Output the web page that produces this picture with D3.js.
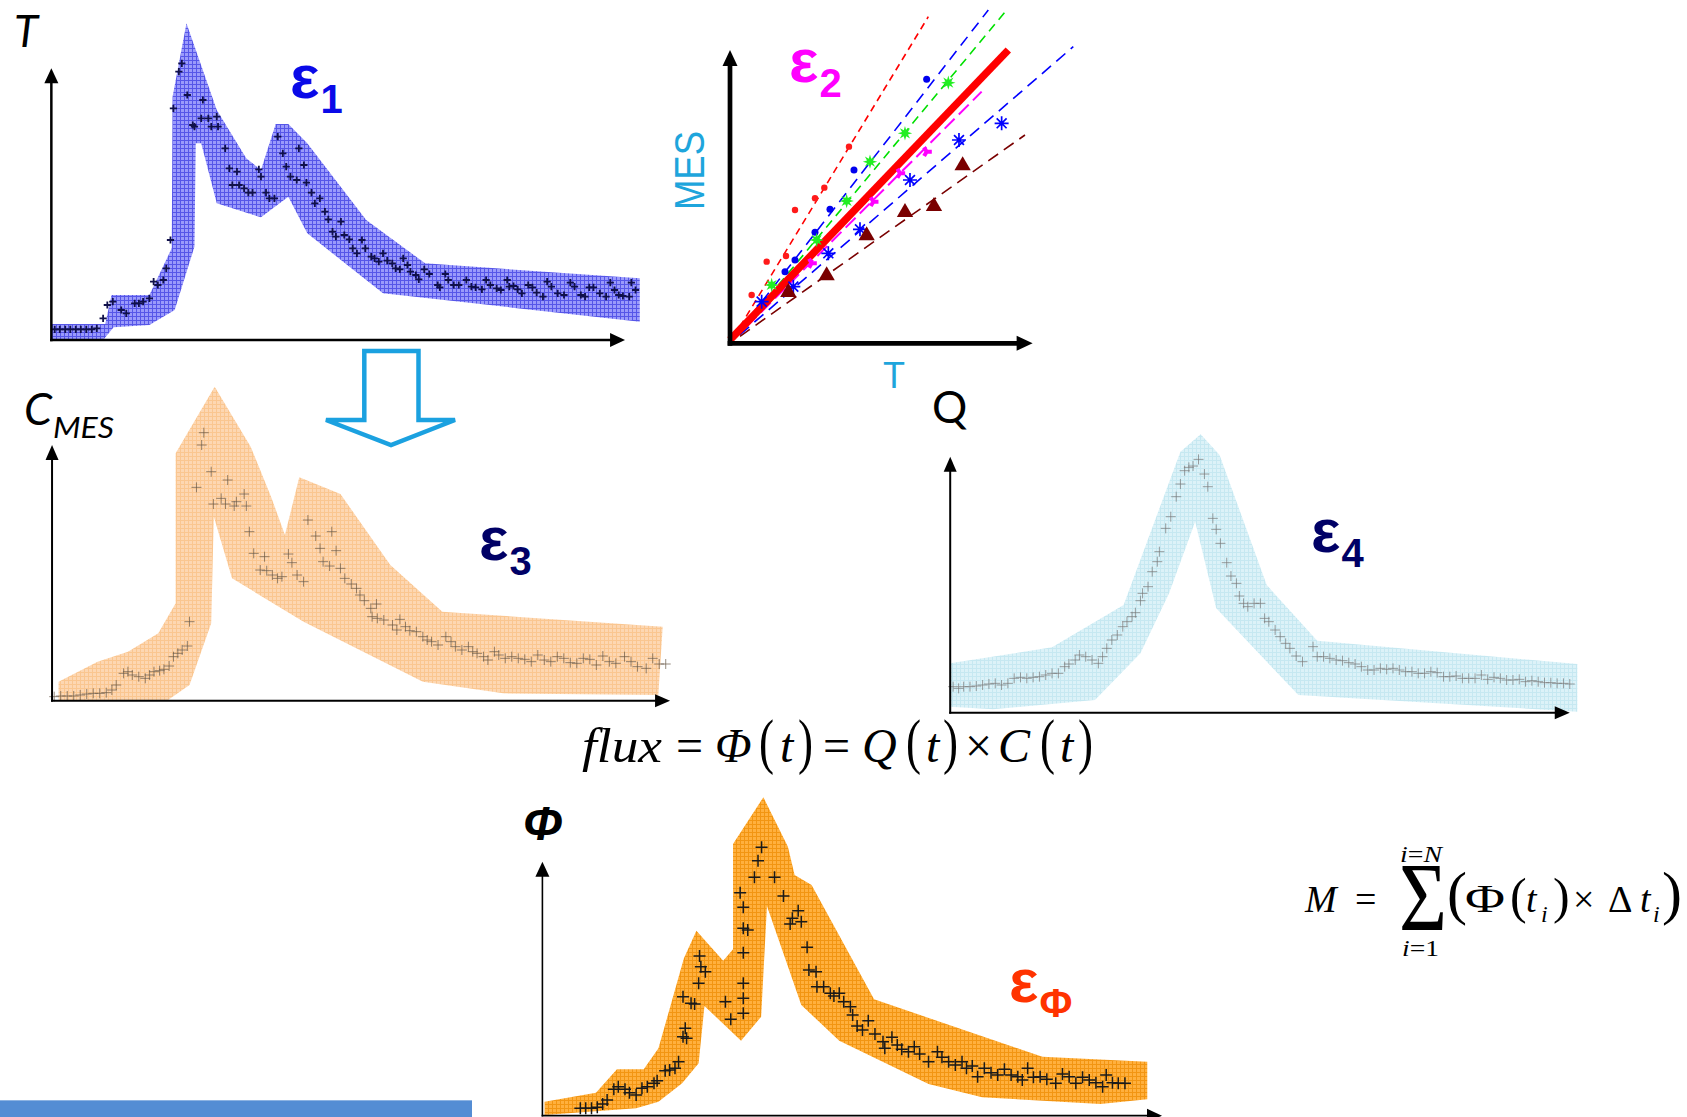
<!DOCTYPE html>
<html>
<head>
<meta charset="utf-8">
<script src="https://cdn.jsdelivr.net/npm/d3@7"></script>
<style>
  html,body{margin:0;padding:0;background:#fff;}
  svg{display:block;}
</style>
</head>
<body>
<script>
// ================= DATA (arbitrary units) =================
// Panel T (turbidity) : uncertainty band (upper then lower outline) and measurements
const turbBandUpper = [[0,4.8],[12.8,4.8],[14.3,13.5],[23.3,13.5],[28.6,27.5],[28.8,73],[32.1,95],[39.3,69],[46.3,54.5],[49.8,51],[53.3,64.8],[56.3,64.8],[60.8,59],[74.8,36],[88.8,23],[139.8,18.5]];
const turbBandLower = [[139.8,5.5],[78.8,14],[60.8,32],[56.3,43],[49.8,36.8],[39.3,41],[35.6,59],[34.3,59],[34,28],[29.3,9],[23.3,4.5],[14.8,3.8],[12.3,0],[0,0]];
const turbPoints = [[0.8,3.2],[2,3.2],[3.3,3.2],[4.5,3.2],[5.8,3.2],[7,3.2],[8.3,3.2],[9.6,3.2],[10.8,3.5],[12.3,6.5],[13.3,10.5],[14.6,11.5],[16.6,9],[17.8,8],[19.8,11],[20.8,11],[21.8,11.5],[23.3,12.5],[24.3,17.5],[25.3,16.5],[26.6,18],[27.3,21.5],[28.3,30],[29,69.5],[30.3,80.5],[31,83],[32.3,73.5],[33.6,64.5],[34,64],[35.6,66.5],[36,72],[37.3,66.5],[38,64],[39.3,67],[39.6,64],[41.3,57.5],[42.3,51.5],[44.1,50.5],[43,46.5],[44.6,46.5],[45.8,45.5],[46.8,44.2],[47.8,44.2],[49.3,51.2],[49.8,49],[51,44.2],[51.8,42.5],[53,42.5],[53.8,61],[55,56],[55.8,52],[56.8,49],[58.3,48],[58.8,57.5],[60,52.5],[60.6,47.2],[61.8,44.2],[62.6,41],[63.8,42.5],[65,38.5],[65.8,36.2],[66.8,32.5],[67.6,31],[68.8,35.5],[69.6,31.5],[70.8,30.2],[71.6,27.5],[72.6,26],[73.8,30],[74.6,27.5],[76,25],[76.8,24.5],[77.8,23.5],[78.8,26],[79.8,23.8],[81,23],[81.8,21.5],[82.8,21.2],[83.6,24.5],[84.6,22.5],[85.3,20.5],[86.6,19.5],[87.3,18.2],[88.6,21.2],[89.8,19.8],[91.8,16.5],[92.3,15.8],[93.6,19.8],[94.3,18],[95.6,16.5],[96.8,16.5],[98.6,18],[99.8,16],[100.8,15.8],[102.3,15.2],[103.3,18],[104.3,16.5],[105.8,15.5],[106.8,15],[108.3,18],[108.8,16],[109.8,16.2],[110.8,15.2],[111.8,14],[113.3,16.5],[114.3,15.8],[115.3,14.2],[116.8,13],[117.8,17.5],[118.8,16],[120.3,14],[121.8,13.5],[123.3,17.2],[124.3,16],[125.8,13.5],[126.8,13],[127.8,15.8],[128.8,15.8],[130.3,14],[131.8,13],[132.8,17.2],[133.8,15],[134.8,13.5],[135.8,13.2],[137.3,13],[137.8,17.2],[138.8,15]];

// Panel C_MES
const concBandUpper = [[1.5,5.7],[10.5,11.7],[17.5,14.7],[24.5,20.2],[28.5,29.2],[28.5,74.2],[37.5,94.2],[45.8,76.2],[50.5,61.2],[53.7,49.7],[57,67],[66.5,62],[78,40.7],[90,26.7],[140.8,22.2]];
const concBandLower = [[139.8,1.7],[104,2.2],[85.5,5.7],[58,23.7],[41.5,36.7],[37.3,55.2],[36.7,23.2],[31.7,4.7],[26.5,0],[1.5,0]];
const concPoints = [[0.5,1.2],[2,1.4],[3.5,1.4],[5,1.4],[6.5,1.7],[8,2],[9.5,2.2],[11,2.2],[12.5,2.4],[13.8,3.2],[14.8,4.7],[16.5,8.2],[17.5,8.7],[18.5,7.7],[20,7.2],[21.5,6.7],[22.5,7.7],[23.5,8.7],[24.8,9],[25.8,9.4],[27,10.4],[28,13.2],[29,14.2],[30,15.2],[31.2,16.4],[31.7,23.7],[35,80.4],[34.5,76.7],[36.7,68.7],[33.3,64],[40.5,66.2],[37.2,59],[39,60.7],[40,59],[42.5,59.7],[44.3,62],[42,58.4],[44.8,58.4],[45.5,50.7],[46.5,44.2],[49,43.2],[48,39.2],[49.5,39],[50.8,37.7],[52,36.7],[53,37.2],[54.5,44],[55.3,41.4],[56.5,37.7],[58,35.7],[59,54.2],[60.8,49.4],[61.8,45.7],[64.5,50.7],[65.5,45],[62.5,41.7],[64,40.4],[66.5,39.7],[67.5,36.7],[69,35],[70.2,33.7],[71,31.7],[72,30],[73.5,27.7],[74.8,29],[73.8,25.2],[75,24.7],[76.5,24.2],[78.5,22.7],[79.5,21.2],[80.2,24.4],[81.5,22.2],[82.5,21],[84,20.7],[85.5,19.2],[86.5,18.2],[87.5,17.7],[89,16.7],[90.8,19.2],[92,17.7],[93,16.2],[94.5,15.2],[96,16.2],[97,14.7],[98,14.2],[99.5,13.2],[100.5,12.2],[102,14.7],[103,13.7],[104.5,12.7],[106,13.2],[107.5,12.7],[109,12.4],[110.5,11.7],[112,13.7],[113.5,12.2],[115,11.7],[116.5,13.2],[118,12.7],[119.5,11.4],[121,11.2],[122.5,12.7],[124,12.4],[125.5,10.7],[127,13.4],[128.5,11.7],[130,11.2],[132,13.2],[133.5,11.7],[135,10.2],[137,9.7],[138.5,12.7],[140,11],[141.5,11]];

// Panel Q
const flowBandUpper = [[0,14.8],[24.2,19.6],[41.2,32.3],[54.7,78.3],[59.5,83.5],[64,77.3],[75.2,38.3],[87.2,21.6],[149,14.6]];
const flowBandLower = [[149,0.3],[82.7,5.3],[63.2,31.3],[58.2,57.3],[52,35.8],[45.2,17.8],[34.4,3.8],[10.2,1],[0,1.8]];
const flowPoints = [[0.7,7.8],[2,7.3],[3.2,7.8],[4.7,7.8],[6.2,8],[7.7,8.3],[9.2,8.6],[10.7,8.8],[12.2,8.3],[13.7,8.8],[15.2,10.3],[16.7,10.6],[18.2,10.3],[19.7,10.6],[21.2,10.8],[22.7,11.3],[24.2,11.8],[25.7,11.8],[27.2,13.8],[28.2,14.6],[29.7,15.8],[30.7,17.3],[32.2,16.8],[33.7,15.8],[35.2,14.8],[36.2,16.8],[37.2,19.3],[38.4,21.8],[39.7,23.3],[41,25.8],[42,27.3],[43.2,28.8],[44,30],[45.2,33.6],[45.7,35.8],[47,37.8],[48,42.3],[49.2,45.3],[49.7,48.3],[51.2,55.3],[52.4,58.8],[53.7,64.8],[54.7,68.6],[55.7,72.6],[56.7,73.6],[57.7,74],[59,76],[60.4,71.6],[61.2,67.8],[62.4,58.3],[63.2,55],[64.2,50.8],[65.7,45],[66.7,41],[68,38.8],[68.7,35],[69.7,32.8],[70.7,31.8],[72.2,32.8],[73.7,32.8],[74.7,28.3],[75.7,27.3],[77.2,24.8],[78.4,22.8],[79.7,20.8],[80.7,19.3],[82.2,17],[83.7,15.3],[86.2,19.8],[87.2,16.8],[88.7,16.8],[90.2,16.3],[91.7,15.8],[93.2,15.6],[94.7,15],[96.2,14.6],[97.7,13.8],[99.2,12.8],[100.7,12.8],[102.2,13.3],[103.7,13],[105.2,13.3],[106.7,12.8],[108.2,12.3],[109.7,12.3],[111.2,11.8],[112.7,11.8],[114.2,12.3],[115.7,12],[117.2,10.8],[118.7,10.8],[120.2,11],[121.7,10.3],[123.2,10.3],[124.7,10.3],[126.2,11.3],[127.7,10],[129.2,10.6],[130.7,10.3],[132.2,9.8],[133.7,9.8],[135.2,10],[136.7,9.3],[138.2,9.6],[139.7,9.3],[141.2,9],[142.7,9],[144.2,8.8],[145.7,8.8],[147.2,8.6]];

// Panel Φ (flux)
const fluxBandUpper = [[0.5,4.2],[12,6.9],[16.7,13.9],[22.7,13.9],[26,20.2],[31.7,47.2],[34.5,55.5],[40.5,46.5],[42.7,49.9],[42.7,81.5],[49.5,95.5],[55,80.7],[56.5,72.2],[60.3,69.2],[74.3,34.9],[112,17.7],[135.5,16.2]];
const fluxBandLower = [[135.5,4.9],[125,3.5],[98.5,5.5],[86.5,9.5],[66.5,22.5],[58,33.2],[50.3,62.9],[49,29.7],[44.5,22.5],[36.3,32.9],[35,15.7],[31.3,9.7],[26,4.2],[21,2.2],[0.5,0.2]];
const fluxPoints = [[8.5,2.2],[9.7,2.2],[11,2.2],[12.3,2.5],[13.5,3.5],[14.5,4.7],[16,7.9],[17,8.7],[18.5,7.9],[19.5,6.9],[21,6.2],[22.3,8.2],[23.5,8.7],[25,9.7],[25.7,10.5],[27.5,13.5],[28.5,13.7],[29.7,14.2],[30.5,16.2],[31.5,23.7],[32,26.2],[32.3,23.2],[31.5,35.7],[33.3,33.7],[34.1,33.5],[35,39.7],[36.5,43.2],[35.5,44.7],[35.2,47.9],[41,34.2],[42.2,28.9],[45,30.7],[45,35.2],[45,39.7],[45,48.9],[45,56.2],[46,55.7],[45,62.5],[44.3,66.9],[47.5,71.5],[48.3,76.5],[49.1,80.5],[52,71.5],[54,65.9],[57.3,61.5],[56,59.2],[58,58.2],[55.5,57.5],[59.3,50.5],[59.7,43.7],[61.3,43.2],[61.5,38.7],[63,38.7],[64.5,36.7],[65.3,35.9],[66.5,36.7],[67.5,34.2],[69,32.7],[69.5,30.2],[70.5,26.9],[71.7,25.7],[73,28.5],[74.5,24.5],[76.3,22.2],[76.7,20.2],[78.3,23.5],[79.5,21.2],[80.5,19.9],[82,19.2],[83.3,20.7],[84.5,18.5],[86.5,16.2],[88.5,19.2],[89.5,17.5],[91,16.2],[92.5,15.2],[94,16.2],[95,14.2],[96.3,14.9],[97.5,11.7],[99,14.2],[100.5,12.9],[102,12.2],[103.5,13.9],[105,12.2],[106.5,11.7],[107.5,10.7],[108.7,14.2],[110,11.5],[111.5,11.7],[113,10.9],[115,9.7],[116.5,12.5],[118,11.7],[119.5,9.7],[121,11.5],[122.5,10.7],[124,9.9],[125.5,8.7],[126.3,12.2],[127.7,9.9],[129,9.7],[130.5,9.7]];

// Panel MES vs T (rating curves)
const redDots      = [[6.5,14.5],[11,24.5],[16.8,26.2],[19.5,40],[25.5,43.5],[28.3,46.7],[35.7,59]];
const blueDots     = [[16.5,21.5],[19.5,25],[25.5,33.3],[30,40.2],[37.2,52],[59,79.2]];
const greenStars   = [[12.5,17.5],[26,31],[35,42.7],[42,54.5],[52.5,63],[65.5,78.2]];
const blueStars    = [[9.5,12.5],[19,17],[29.5,27],[39,34.2],[54,49],[68.7,61],[81.5,66]];
const brownTris    = [[17.5,15],[29,20],[41,32],[52.5,39],[61.2,40.8],[69.8,53]];
const magentaMarks = [[24.5,24],[43,42.5],[51,51],[59,57.5]];
const lineRed      = [[3,5],[59.5,98]];
const lineBlueUp   = [[3,4],[77.5,100]];
const lineGreen    = [[3,3.6],[83,100]];
const lineMagenta  = [[5,5],[75.5,75.5]];
const lineBlueLow  = [[3,2.6],[103,89]];
const lineBrown    = [[3,2.1],[88.5,62.5]];
const lineMean     = [[0,1],[83.5,88]];

// ================= DRAWING =================
const W = 1687, H = 1117;
const svg = d3.select("body").append("svg").attr("width", W).attr("height", H)
  .attr("viewBox", `0 0 ${W} ${H}`);
svg.append("rect").attr("width", W).attr("height", H).attr("fill", "#fff");
const defs = svg.append("defs");

function makePattern(id, base, line, size) {
  const p = defs.append("pattern").attr("id", id).attr("patternUnits", "userSpaceOnUse")
    .attr("width", size).attr("height", size);
  p.append("rect").attr("width", size).attr("height", size).attr("fill", base);
  p.append("path").attr("d", `M0,0.5H${size}M0.5,0V${size}`).attr("stroke", line).attr("stroke-width", 1);
}
makePattern("patBlue", "#9a9afb", "#5656e8", 4);
makePattern("patPeach", "#fdd7b2", "#fac690", 4);
makePattern("patCyan", "#dcf2f8", "#c6e8f1", 4);
makePattern("patOrange", "#ffb03e", "#f29512", 4);

function axesArrows(g, x, y, xEnd, yEnd, w, hl, hw) {
  const ox = x(0), oy = y(0), xt = x(xEnd), yt = y(yEnd);
  g.append("line").attr("x1", ox - w / 2).attr("y1", oy).attr("x2", xt - hl + 1).attr("y2", oy)
    .attr("stroke", "#000").attr("stroke-width", w);
  g.append("line").attr("x1", ox).attr("y1", oy + w / 2).attr("x2", ox).attr("y2", yt + hl - 1)
    .attr("stroke", "#000").attr("stroke-width", w);
  g.append("path").attr("d", `M${xt},${oy}L${xt - hl},${oy - hw / 2}L${xt - hl},${oy + hw / 2}Z`).attr("fill", "#000");
  g.append("path").attr("d", `M${ox},${yt}L${ox - hw / 2},${yt + hl}L${ox + hw / 2},${yt + hl}Z`).attr("fill", "#000");
}

function bandPanel(cfg) {
  const g = svg.append("g");
  const x = d3.scaleLinear().domain([0, 100]).range([cfg.x0, cfg.x0 + 100 * cfg.kx]);
  const y = d3.scaleLinear().domain([0, 100]).range([cfg.y0, cfg.y0 - 100 * cfg.ky]);
  const line = d3.line().x(d => x(d[0])).y(d => y(d[1])).curve(d3.curveLinearClosed);
  g.append("path").attr("d", line(cfg.upper.concat(cfg.lower))).attr("fill", cfg.fill);
  const s = cfg.cross.s;
  g.append("g").selectAll("path").data(cfg.points).join("path")
    .attr("d", d => `M${x(d[0]) - s},${y(d[1])}H${x(d[0]) + s}M${x(d[0])},${y(d[1]) - s}V${y(d[1]) + s}`)
    .attr("stroke", cfg.cross.c).attr("stroke-width", cfg.cross.w).attr("fill", "none")
    .attr("opacity", cfg.cross.o || 1);
  axesArrows(g, x, y, cfg.xEnd, cfg.yEnd, cfg.axisW, cfg.hl, cfg.hw);
}

bandPanel({x0: 51.35, kx: 4.209, y0: 340, ky: 3.333, xEnd: 136.3, yEnd: 81.5,
  upper: turbBandUpper, lower: turbBandLower, points: turbPoints, fill: "url(#patBlue)",
  cross: {s: 3.6, w: 1.8, c: "#10104a"}, axisW: 2.5, hl: 15, hw: 14});
bandPanel({x0: 52.04, kx: 4.337, y0: 700.67, ky: 3.333, xEnd: 142.5, yEnd: 76.7,
  upper: concBandUpper, lower: concBandLower, points: concPoints, fill: "url(#patPeach)",
  cross: {s: 5, w: 1, c: "#6a5a48", o: 0.7}, axisW: 2, hl: 15, hw: 13});
bandPanel({x0: 950.2, kx: 4.209, y0: 712.67, ky: 3.333, xEnd: 147.2, yEnd: 76.8,
  upper: flowBandUpper, lower: flowBandLower, points: flowPoints, fill: "url(#patCyan)",
  cross: {s: 5, w: 0.9, c: "#7a7a7a", o: 0.8}, axisW: 2, hl: 15, hw: 13});
bandPanel({x0: 542.4, kx: 4.464, y0: 1115.67, ky: 3.333, xEnd: 138.8, yEnd: 76.2,
  upper: fluxBandUpper, lower: fluxBandLower, points: fluxPoints, fill: "url(#patOrange)",
  cross: {s: 6, w: 1.5, c: "#1a1a1a"}, axisW: 1.6, hl: 15, hw: 14});

// ---- MES vs T panel ----
(function () {
  const g = svg.append("g");
  const x = d3.scaleLinear().domain([0, 100]).range([730, 1063.3]);
  const y = d3.scaleLinear().domain([0, 100]).range([343.3, 10]);
  const ln = d3.line().x(d => x(d[0])).y(d => y(d[1]));
  const dashed = [
    [lineRed, "#ff0000", "7,5", 1.6],
    [lineBlueUp, "#0000ff", "11,7", 1.6],
    [lineGreen, "#00e000", "9,6", 1.6],
    [lineMagenta, "#ff00ff", "14,6", 2],
    [lineBlueLow, "#0000ff", "12,7", 1.6],
    [lineBrown, "#7a0000", "12,7", 1.6]
  ];
  dashed.forEach(([d, c, da, w]) => g.append("path").attr("d", ln(d)).attr("stroke", c)
    .attr("stroke-dasharray", da).attr("stroke-width", w).attr("fill", "none"));
  g.append("path").attr("d", ln(lineMean)).attr("stroke", "#ff0000").attr("stroke-width", 7.5).attr("fill", "none");

  g.selectAll(".rd").data(redDots).join("circle").attr("cx", d => x(d[0])).attr("cy", d => y(d[1])).attr("r", 3.2).attr("fill", "#ff1a1a");
  g.selectAll(".bd").data(blueDots).join("circle").attr("cx", d => x(d[0])).attr("cy", d => y(d[1])).attr("r", 3.5).attr("fill", "#0000ee");
  const starPath = (cx, cy) => {
    const pts = d3.range(16).map(i => {
      const r = i % 2 ? 3.2 : 7.2, a = i * Math.PI / 8;
      return [cx + r * Math.cos(a), cy + r * Math.sin(a)];
    });
    return "M" + pts.join("L") + "Z";
  };
  g.selectAll(".gs").data(greenStars).join("path").attr("d", d => starPath(x(d[0]), y(d[1]))).attr("fill", "#22ee22");
  g.selectAll(".bs").data(blueStars).join("path")
    .attr("d", d => {
      const cx = x(d[0]), cy = y(d[1]), r = 7, q = r * 0.7071;
      return `M${cx - r},${cy}H${cx + r}M${cx},${cy - r}V${cy + r}M${cx - q},${cy - q}L${cx + q},${cy + q}M${cx - q},${cy + q}L${cx + q},${cy - q}`;
    }).attr("stroke", "#0000ff").attr("stroke-width", 1.7).attr("fill", "none");
  const tri = d3.symbol().type(d3.symbolTriangle).size(115);
  g.selectAll(".bt").data(brownTris).join("path").attr("d", tri)
    .attr("transform", d => `translate(${x(d[0])},${y(d[1]) - 1})`).attr("fill", "#7a0000");
  const wye = d3.symbol().type(d3.symbolWye).size(55);
  g.selectAll(".mm").data(magentaMarks).join("path").attr("d", wye)
    .attr("transform", d => `translate(${x(d[0])},${y(d[1])}) rotate(30)`).attr("fill", "#ff00ff");

  axesArrows(g, x, y, 90.8, 88, 4.7, 16, 15);
})();

// ---- Hollow arrow between T and C_MES ----
svg.append("path")
  .attr("d", "M364.3,351L418.5,351L418.5,420L455,420L391,445L326,420L364.3,420Z")
  .attr("fill", "none").attr("stroke", "#1ba1e0").attr("stroke-width", 4.5).attr("stroke-linejoin", "miter");

// ---- text helpers ----
const sans = "Lato, 'Liberation Sans', sans-serif";
function txt(s, x, y, o) {
  const t = svg.append("text").attr("x", x).attr("y", y).text(s)
    .attr("font-family", o.f || sans).attr("font-size", o.size).attr("fill", o.c || "#000");
  if (o.it) t.attr("font-style", "italic");
  if (o.b) t.attr("font-weight", "bold");
  if (o.len) t.attr("textLength", o.len).attr("lengthAdjust", "spacingAndGlyphs");
  if (o.tr) t.attr("transform", o.tr);
  return t;
}
function spans(x, y, size, font, parts, len) {
  const t = svg.append("text").attr("x", x).attr("y", y).attr("font-family", font)
    .attr("font-size", size).attr("fill", "#000");
  parts.forEach(([s, it]) => t.append("tspan").text(s).attr("font-style", it ? "italic" : "normal"));
  if (len) t.attr("textLength", len).attr("lengthAdjust", "spacingAndGlyphs");
  return t;
}

// ---- Axis titles ----
txt("T", 14, 47, {size: 44, it: true});
txt("C", 24, 425, {size: 45, it: true});
txt("MES", 53, 438, {size: 29, it: true, len: 61});
txt("Q", 932, 423, {size: 44});
txt("Φ", 523, 840, {size: 48, it: true, b: true, f: "'Liberation Sans', sans-serif"});
txt("MES", 0, 0, {size: 42, c: "#1ea5dc", f: "'Liberation Sans', sans-serif", len: 79, tr: "translate(704,210) rotate(-90)"});
txt("T", 883, 388, {size: 36, c: "#1ea5dc", f: "'Liberation Sans', sans-serif"});

// ---- epsilon labels (ε with subscript, one text element each) ----
const eps = [
  ["1", 290, 98, "#0a0ae8"],
  ["2", 789, 82, "#ff00ff"],
  ["3", 479, 560, "#000066"],
  ["4", 1311, 552, "#000066"],
  ["Φ", 1009, 1002, "#ff3300"]
];
eps.forEach(([sub, ex, ey, c]) => {
  const t = svg.append("text").attr("x", ex).attr("y", ey)
    .attr("font-family", "'Liberation Sans', sans-serif").attr("font-weight", "bold").attr("fill", c);
  t.append("tspan").attr("font-size", 62).text("ε");
  t.append("tspan").attr("font-size", 40).attr("dx", 1).attr("dy", 15).text(sub);
});

// ---- formulas ----
const serif = "'Liberation Serif', 'Times New Roman', serif";
const flux = [
  ["flux", 582, 48, true, 80], ["=", 676, 48, false], ["Φ", 715, 48, true], ["(", 759, 62, false, 15],
  ["t", 780, 48, true], [")", 798, 62, false, 15], ["=", 823, 48, false], ["Q", 862, 48, true],
  ["(", 906, 62, false, 15], ["t", 926, 48, true], [")", 943, 62, false, 15], ["×", 965, 48, false],
  ["C", 998, 48, true], ["(", 1040, 62, false, 15], ["t", 1060, 48, true], [")", 1078, 62, false, 15]
];
flux.forEach(([s, x, size, it, len]) => txt(s, x, 762, {size: size, it: it, f: serif, len: len}));

const mass = [
  ["M", 1305, 912, 38, true], ["=", 1355, 912, 38, false], ["(", 1447, 913, 60, false],
  ["(", 1510, 913, 50, false], ["t", 1526, 912, 38, true],
  ["i", 1541, 922, 24, true], [")", 1553, 913, 50, false], ["×", 1573, 912, 38, false],
  ["Δ", 1608, 912, 38, false], ["t", 1640, 912, 38, true], ["i", 1653, 922, 24, true],
  [")", 1662, 913, 60, false]
];
mass.forEach(([s, x, y, size, it]) => txt(s, x, y, {size: size, it: it, f: serif}));
txt("Φ", 1465, 912, {size: 40, f: serif, len: 40});
spans(1400, 862, 24, serif, [["i", true], ["=", false], ["N", true]], 42);
spans(1402, 956, 24, serif, [["i", true], ["=", false], ["1", false]], 37);
// large summation sign: a 50px glyph stretched vertically so its ink spans y 865–930
txt("Σ", 1399, 912.6, {size: 50, f: serif, len: 48, tr: "matrix(1,0,0,1.964,0,-862.3)"});

// ---- blue bar bottom-left ----
svg.append("rect").attr("x", 0).attr("y", 1100).attr("width", 472).attr("height", 17).attr("fill", "#548dd4");
svg.append("rect").attr("x", 0).attr("y", 1100).attr("width", 472).attr("height", 1).attr("fill", "#8db3e2");
</script>
</body>
</html>
